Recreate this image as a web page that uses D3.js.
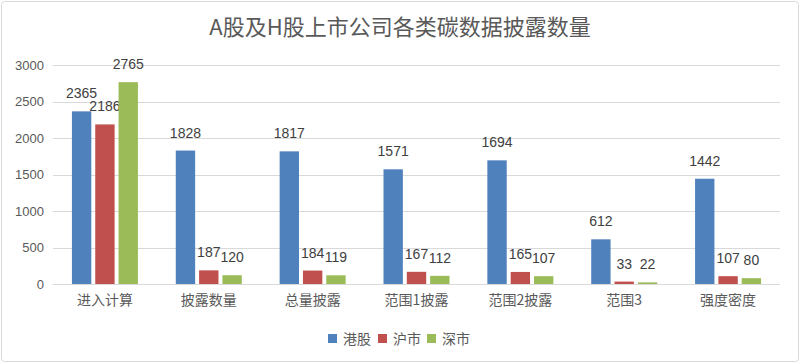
<!DOCTYPE html>
<html><head><meta charset="utf-8">
<script src="https://cdn.jsdelivr.net/npm/d3@7"></script>
<style>body{margin:0;background:#fff}svg{display:block}</style>
</head><body>
<script>
const categories = ["进入计算","披露数量","总量披露","范围1披露","范围2披露","范围3","强度密度"];
const seriesNames = ["港股","沪市","深市"];
const hk = [2365,1828,1817,1571,1694,612,1442];
const sh = [2186,187,184,167,165,33,107];
const sz = [2765,120,119,112,107,22,80];
const yTicks = [0,500,1000,1500,2000,2500,3000];
const colors = ["#4f81bd","#c0504d","#9bbb59"];
const values = [hk, sh, sz];

const W = 800, H = 363;
const svg = d3.select("body").append("svg").attr("width", W).attr("height", H);
svg.append("rect").attr("x",1.5).attr("y",1.5).attr("width",W-3).attr("height",H-3)
  .attr("fill","#fff").attr("stroke","#d9d9d9").attr("rx",3);

svg.append("text").attr("x",400).attr("y",35).attr("text-anchor","middle")
  .attr("font-family","'Noto Sans CJK SC', sans-serif").attr("font-size",22)
  .attr("fill","#595959").text("A股及H股上市公司各类碳数据披露数量");

const x0 = d3.scaleBand().domain(categories).range([53,780]);
const y = d3.scaleLinear().domain([0,3000]).range([284,65]);
const x1 = d3.scaleBand().domain(seriesNames).range([x0.bandwidth()/2-33, x0.bandwidth()/2+33]).paddingInner(0.17);

const grid = svg.append("g");
grid.selectAll("line").data(yTicks).join("line")
  .attr("x1",53).attr("x2",780).attr("y1",d=>Math.round(y(d))+0.5).attr("y2",d=>Math.round(y(d))+0.5)
  .attr("stroke","#d9d9d9").attr("stroke-width",1);

const yAxis = svg.append("g").attr("transform","translate(53,0)")
  .call(d3.axisLeft(y).tickValues(yTicks).tickSize(0).tickPadding(9).tickFormat(d3.format("d")));
yAxis.select(".domain").remove();
yAxis.selectAll("text").attr("font-family","'Liberation Sans', sans-serif").attr("font-size",13).attr("fill","#595959");

const groups = svg.append("g").selectAll("g").data(categories).join("g")
  .attr("transform", d=>`translate(${x0(d)},0)`);
seriesNames.forEach((s,si)=>{
  groups.append("rect")
    .attr("x", x1(s)).attr("width", x1.bandwidth())
    .attr("y", (d,i)=>y(values[si][i])).attr("height",(d,i)=>y(0)-y(values[si][i]))
    .attr("fill", colors[si]);
  groups.append("text")
    .attr("x", x1(s)+x1.bandwidth()/2).attr("y",(d,i)=>y(values[si][i])-13)
    .attr("text-anchor","middle").attr("font-family","'Liberation Sans', sans-serif")
    .attr("font-size",14).attr("fill","#404040").text((d,i)=>values[si][i]);
});

svg.append("line").attr("x1",53).attr("x2",780).attr("y1",284.5).attr("y2",284.5).attr("stroke","#d9d9d9");

const xAxis = svg.append("g").attr("transform","translate(0,284)")
  .call(d3.axisBottom(x0).tickSize(0).tickPadding(11));
xAxis.select(".domain").remove();
xAxis.selectAll("text").attr("font-family","'Noto Sans CJK SC', sans-serif").attr("font-size",14).attr("fill","#595959");

const legend = svg.append("g");
const lx = [328, 378, 427];
seriesNames.forEach((s,i)=>{
  legend.append("rect").attr("x",lx[i]).attr("y",334).attr("width",9).attr("height",9).attr("fill",colors[i]);
  legend.append("text").attr("x",lx[i]+15).attr("y",343.5).attr("font-family","'Noto Sans CJK SC', sans-serif")
    .attr("font-size",14).attr("fill","#595959").text(s);
});
</script>
</body></html>
